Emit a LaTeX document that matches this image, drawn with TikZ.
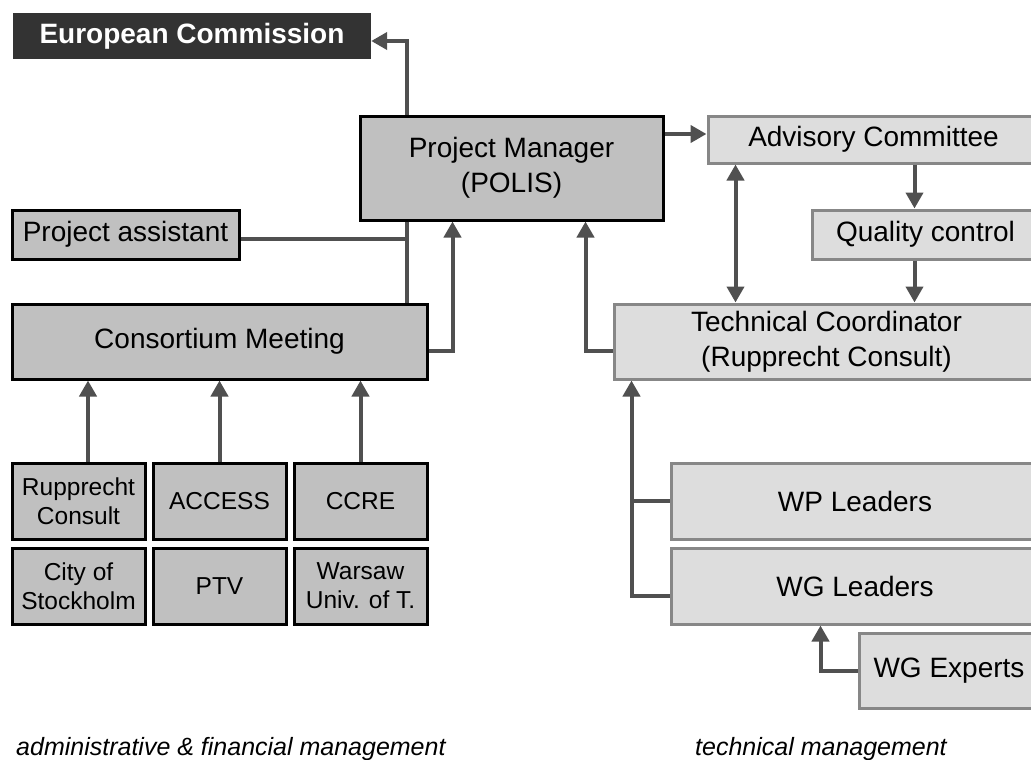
\documentclass[tikz,border=0pt]{standalone}
\usepackage{fontspec}
\setmainfont{Liberation Sans}
\usetikzlibrary{arrows.meta}

\definecolor{arrowgray}{HTML}{505050}
\definecolor{darkbox}{HTML}{333333}
\definecolor{midbox}{HTML}{C0C0C0}
\definecolor{lightbox}{HTML}{DDDDDD}
\definecolor{lightedge}{HTML}{878787}

\begin{document}
\begin{tikzpicture}[x=1pt, y=-1pt,
  every node/.style={inner sep=0pt, align=center, font=\fontsize{28}{35}\selectfont},
  adm/.style={draw=black, fill=midbox, line width=3pt},
  tec/.style={draw=lightedge, fill=lightbox, line width=3pt},
  partner/.style={adm, minimum width=133pt, minimum height=76pt, font=\fontsize{24.5}{29}\selectfont},
  link/.style={draw=arrowgray, line width=4pt},
  arr/.style={link, -{Triangle[length=16pt, width=17pt]}},
  dbl/.style={link, {Triangle[length=16pt, width=17pt]}-{Triangle[length=16pt, width=17pt]}},
  note/.style={anchor=base west, font=\fontsize{25}{30}\selectfont\itshape}]

\useasboundingbox (0,0) rectangle (1031,760);
\clip (0,0) rectangle (1031,760);

\node[fill=darkbox, text=white, font=\fontsize{28}{35}\selectfont\bfseries, minimum width=358pt, minimum height=46pt] (EC) at (192,36) {European Commission};
\node[adm, minimum width=303pt, minimum height=104pt] (PM) at (511.5,168) {Project Manager\\(POLIS)};
\node[adm, minimum width=227pt, minimum height=49pt] (PA) at (125.5,234.5) {Project assistant};
\node[adm, minimum width=415pt, minimum height=75pt] (CM) at (219.5,341.5) {Consortium Meeting};

\foreach \name/\x/\y/\txt in {RC/78.5/501/{Rupprecht\\Consult}, AX/219.5/501/ACCESS, CC/360.5/501/CCRE,
    ST/78.5/586/{City of\\Stockholm}, PT/219.5/586/PTV, WU/360.5/586/{Warsaw\\Univ. of T.}}
    \node[partner] (\name) at (\x,\y) {\txt};

\node[tec, minimum width=331pt, minimum height=47pt] (AC) at (873.5,139.5) {Advisory Committee};
\node[tec, minimum width=227pt, minimum height=49pt] (QC) at (925.5,234.5) {Quality control};
\node[tec, minimum width=425pt, minimum height=75pt] (TC) at (826.5,341.5) {Technical Coordinator\\(Rupprecht Consult)};
\node[tec, minimum width=368pt, minimum height=76pt] (WP) at (855,501) {WP Leaders};
\node[tec, minimum width=368pt, minimum height=76pt] (WGL) at (855,586) {WG Leaders};
\node[tec, minimum width=180pt, minimum height=75pt] (WGE) at (949,670.5) {WG Experts};

\node[note] (adminlabel) at (16,755) {administrative \& financial management};
\node[note] (techlabel) at (695,755) {technical management};

% administrative side
\draw[arr] ([xshift=48pt]PM.north west) |- ([yshift=-5pt]EC.east);
\coordinate (stem) at ([xshift=48pt]PM.south west);
\draw[link] (stem) -- (stem |- CM.north);
\draw[link] ([yshift=-4.5pt]PA.east) -- ([yshift=-4.5pt]PA.east -| stem);
\draw[arr] ([yshift=-9.5pt]CM.east) -| ([xshift=94pt]PM.south west);
\foreach \name/\dx in {RC/9.5, AX/0, CC/0}
    \draw[arr] ([xshift=\dx pt]\name.north) -- ([xshift=\dx pt]\name.north |- CM.south);

% technical side
\draw[arr] ([yshift=34pt]PM.east) -- ([yshift=5.5pt]AC.west);
\draw[arr] ([yshift=-9.5pt]TC.west) -| ([xshift=227pt]PM.south west);
\draw[dbl] ([xshift=29pt]AC.south west) -- ([xshift=123pt]TC.north west);
\draw[arr] ([xshift=208pt]AC.south west) -- ([xshift=104pt]QC.north west);
\draw[arr] ([xshift=104pt]QC.south west) -- ([xshift=302pt]TC.north west);
\coordinate (trunk) at ([xshift=19pt]TC.south west);
\draw[arr] ([yshift=-10pt]WGL.west) -| (trunk);
\draw[link] (WP.west) -- (WP.west -| trunk);
\draw[arr] (WGE.west) -| ([xshift=151pt]WGL.south west);

\end{tikzpicture}
\end{document}
